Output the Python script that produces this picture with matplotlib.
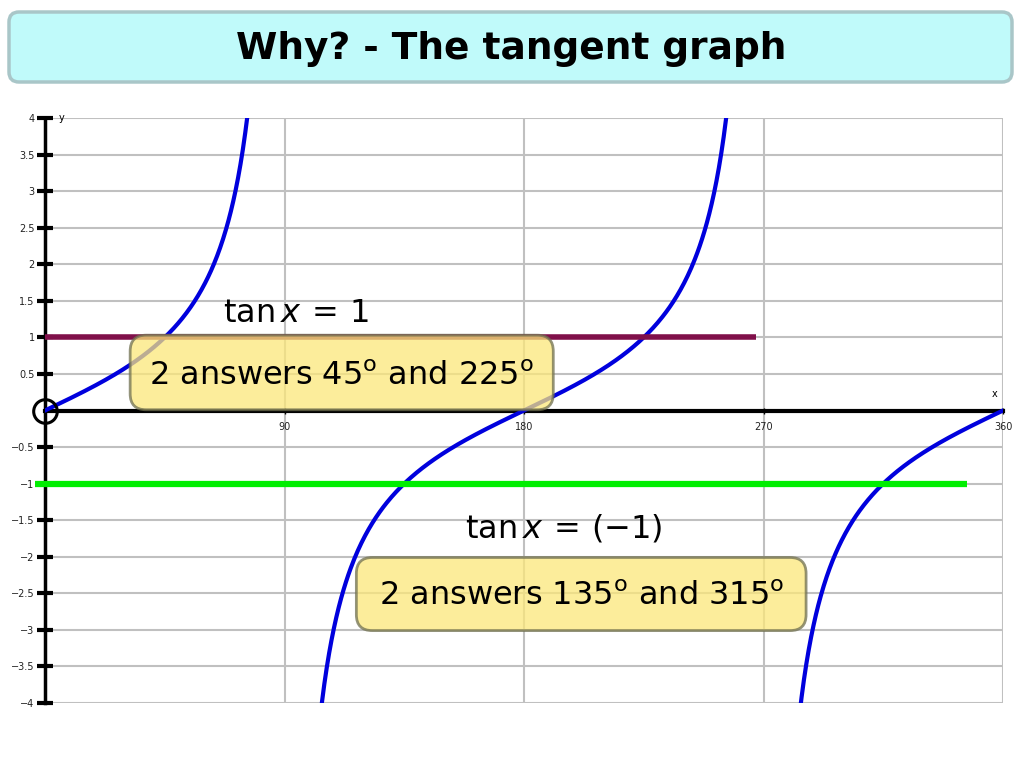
import numpy as np
import matplotlib.pyplot as plt
from matplotlib.patches import FancyBboxPatch

plt.rcParams['mathtext.fontset'] = 'dejavusans'

title = "Why? - The tangent graph"

# tan curve, one branch per period piece (degrees)
branches = [(0, 89.9), (90.1, 269.9), (270.1, 360)]

y_ticks = [4, 3.5, 3, 2.5, 2, 1.5, 1, 0.5, -0.5, -1, -1.5, -2, -2.5, -3, -3.5, -4]
y_tick_labels = ["4", "3.5", "3", "2.5", "2", "1.5", "1", "0.5", "\u22120.5", "\u22121",
                 "\u22121.5", "\u22122", "\u22122.5", "\u22123", "\u22123.5", "\u22124"]
x_ticks = [90, 180, 270, 360]
x_tick_labels = ["90", "180", "270", "360"]

# horizontal lines tan x = 1 and tan x = -1
levels = [1, -1]
level_starts = [0, -3.8]
level_ends = [267, 346.5]
level_colors = ["#80104a", "#00ee00"]
level_widths = [4, 4.5]

equations = [r"$\mathrm{tan}\,x\,=\,1$", r"$\mathrm{tan}\,x\,=\,(-1)$"]
eq_pos = [(67, 1.32), (158, -1.62)]

answers = [r"2 answers 45$^{\mathrm{o}}$ and 225$^{\mathrm{o}}$",
           r"2 answers 135$^{\mathrm{o}}$ and 315$^{\mathrm{o}}$"]
# boxes: x0, x1, y0, y1 in data units
answer_boxes = [(32, 191, 0.01, 1.03), (117, 286, -3.01, -2.01)]
answer_text_y = [0.46, -2.54]

fig = plt.figure(figsize=(10.24, 7.68), dpi=100)

# title banner
bg = fig.add_axes([0, 0, 1, 1])
bg.set_xlim(0, 1024)
bg.set_ylim(768, 0)
bg.axis("off")
bg.add_patch(FancyBboxPatch((9, 12), 1003, 70, boxstyle="round,pad=0,rounding_size=10",
                            facecolor="#c0fafa", edgecolor="#a9c6c8", lw=2.5))
bg.text(511, 49, title, ha="center", va="center", fontsize=27, fontweight="bold")

ax = fig.add_axes([45 / 1024, 1 - 703 / 768, 958 / 1024, 585 / 768])
ax.set_xlim(0, 360)
ax.set_ylim(-4, 4)
ax.patch.set_alpha(0)

for s in ["top", "right"]:
    ax.spines[s].set_visible(False)
ax.spines["left"].set_position(("data", 0))
ax.spines["bottom"].set_position(("data", 0))
ax.spines["left"].set_linewidth(2.5)
ax.spines["bottom"].set_linewidth(3)

# grid
for v in x_ticks:
    ax.plot([v, v], [-4, 4], color="#c0c0c0", lw=1.5, zorder=1)
for h in y_ticks:
    ax.plot([0, 360], [h, h], color="#c0c0c0", lw=1.5, zorder=1)

ax.set_yticks(y_ticks)
ax.set_yticklabels(y_tick_labels)
ax.set_xticks(x_ticks)
ax.set_xticklabels(x_tick_labels)
ax.tick_params(axis="y", direction="inout", length=11, width=3, labelsize=7, pad=2,
               labelcolor="#222222")
ax.tick_params(axis="x", direction="inout", length=5, width=1, labelsize=7, pad=6,
               labelcolor="#222222")

ax.text(5, 4.0, "y", fontsize=7, va="center")
ax.text(357, 0.18, "x", fontsize=7, ha="center")

for a, b in branches:
    xs = np.linspace(a, b, 400)
    ax.plot(xs, np.tan(np.radians(xs)), color="#0000dd", lw=3, zorder=3)

for lv, x0, x1, c, w in zip(levels, level_starts, level_ends, level_colors, level_widths):
    ax.plot([x0, x1], [lv, lv], color=c, lw=w, zorder=4, clip_on=False, solid_capstyle="butt")

# open circle at the origin
ax.plot([0], [0], "o", ms=17, mfc="none", mec="black", mew=2.2, zorder=6, clip_on=False)

for txt, (ex, ey) in zip(equations, eq_pos):
    ax.text(ex, ey, txt, fontsize=23, va="center", zorder=5)

for txt, (x0, x1, y0, y1), ty in zip(answers, answer_boxes, answer_text_y):
    ax.add_patch(FancyBboxPatch((x0, y0), x1 - x0, y1 - y0,
                                boxstyle="round,pad=0,rounding_size=6",
                                mutation_aspect=1 / 27.5,
                                facecolor="#fbe77a", alpha=0.75, edgecolor="#707050",
                                lw=2, zorder=7))
    ax.text((x0 + x1) / 2, ty, txt, ha="center", va="center",
            fontsize=23, zorder=8)

fig.savefig("out.png", dpi=100)
